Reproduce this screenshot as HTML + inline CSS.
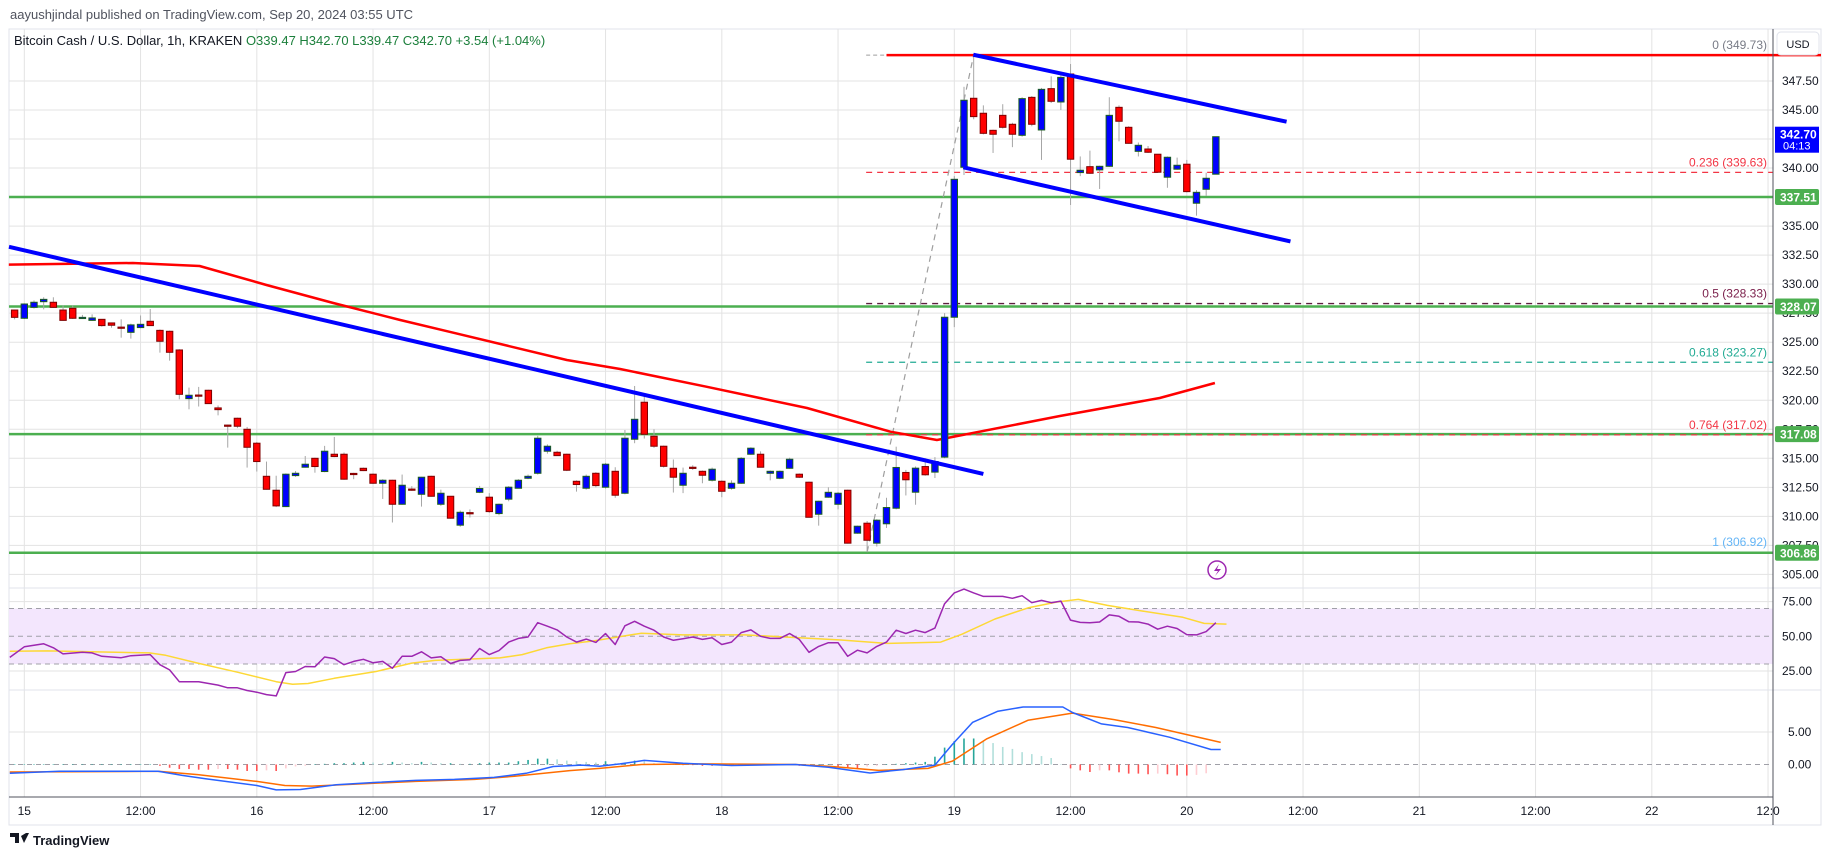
<!DOCTYPE html>
<html><head><meta charset="utf-8">
<style>
html,body{margin:0;padding:0;background:#fff;}
svg{display:block;font-family:"Liberation Sans",sans-serif;}
</style></head>
<body>
<svg id="chart" width="1835" height="857" viewBox="0 0 1835 857" xmlns="http://www.w3.org/2000/svg">
  <text x="10" y="19" font-size="13" fill="#50535e">aayushjindal published on TradingView.com, Sep 20, 2024 03:55 UTC</text>
  <rect x="9" y="29" width="1812" height="796" fill="#fff" stroke="#e0e3eb"/>
  <g id="grid"></g>
  <rect id="rsiband" fill="#f3e6fd"/>
  <g id="marks"></g>
  <g id="axis"></g>
  <text x="14" y="45" font-size="13" fill="#131722">Bitcoin Cash / U.S. Dollar, 1h, KRAKEN <tspan fill="#1b7f3b">O339.47  H342.70  L339.47  C342.70  +3.54 (+1.04%)</tspan></text>
  <g>
    <rect x="1777" y="32" width="42" height="23" rx="4" fill="#fff" stroke="#e0e3eb"/>
    <text x="1798" y="48" font-size="11" text-anchor="middle" fill="#131722">USD</text>
  </g>
  <g>
    <circle cx="1217" cy="570" r="9" fill="#fff" stroke="#9c27b0" stroke-width="1.5"/>
    <path d="M1219 564 L1214 571 L1218 571 L1215 576 L1221 569 L1217 569 Z" fill="#9c27b0"/>
  </g>
  <g>
    <path d="M10 833 h9 v10 h-4 v-6 h-5 z M21 836 l3 7 l5 -10 h-3 z" fill="#131722"/>
    <text x="33" y="845" font-size="13" font-weight="bold" fill="#131722">TradingView</text>
  </g>
</svg>
<script>
// ---------- data ----------
const candleT = [-1,0,1,2,3,4,5,6,7,8,9,10,11,12,13,14,15,16,17,18,19,20,21,22,23,24,25,26,27,28,29,30,31,32,33,34,35,36,37,38,39,40,41,42,43,44,45,46,47,48,49,50,51,52,53,54,55,56,57,58,59,60,61,62,63,64,65,66,67,68,69,70,71,72,73,74,75,76,77,78,79,80,81,82,83,84,85,86,87,88,89,90,91,92,93,94,95,96,97,98,99,100,101,102,103,104,105,106,107,108,109,110,111,112,113,114,115,116,117,118,119,120,121,122,123];
const openV = [327.77,327.06,328.0,328.49,328.44,327.77,327.92,327.14,326.88,326.97,326.66,326.3,325.85,326.26,326.8,326.02,325.94,324.33,320.14,320.45,320.86,319.34,317.86,318.45,317.5,316.3,313.45,312.25,310.84,313.51,314.23,315.0,313.86,315.35,315.35,313.7,314.14,313.63,312.85,313.11,311.04,312.35,311.9,313.45,311.04,311.73,309.24,310.32,312.07,311.65,310.24,311.48,312.42,313.28,313.71,315.61,315.52,315.35,313.02,312.42,313.71,312.51,313.88,311.99,316.64,319.83,316.9,316.04,314.14,312.68,314.23,313.88,313.11,313.02,312.42,312.85,315.35,315.35,313.71,313.28,314.14,313.63,312.94,310.18,311.65,311.04,312.25,308.55,309.41,307.69,309.36,310.7,313.78,312.08,314.29,313.81,315.1,327.15,340.07,346.01,344.72,343.25,344.54,343.77,342.82,346.09,343.28,346.84,345.69,348.1,339.61,340.12,339.84,340.15,345.23,343.51,341.44,341.64,341.19,339.21,339.9,340.33,336.97,338.17,339.47];
const closeV = [327.14,328.29,328.44,328.69,328.0,326.88,327.06,327.14,327.09,326.43,326.46,326.28,326.49,326.54,326.43,325.08,324.13,320.51,320.43,320.43,319.71,319.19,317.84,317.76,315.95,314.72,312.33,310.9,313.63,313.71,314.49,314.29,315.61,315.15,313.2,313.68,313.94,312.85,313.11,311.04,312.68,312.33,313.37,311.73,311.99,309.84,310.35,310.3,312.4,310.41,311.04,312.51,313.11,313.45,316.73,316.04,315.23,313.97,312.74,313.45,312.65,314.49,311.82,316.73,318.36,317.07,316.04,314.31,313.37,313.71,314.22,313.54,314.06,312.16,312.85,315.0,315.87,314.23,313.88,313.88,314.92,313.37,309.92,311.3,312.07,311.99,307.69,309.15,307.94,309.67,310.76,314.21,313.15,314.15,313.58,314.72,327.15,339.03,345.84,344.43,342.99,342.91,343.51,342.91,345.98,343.77,346.78,345.75,347.81,340.76,339.81,339.55,340.15,344.54,344.03,342.13,341.96,341.36,339.64,340.93,340.24,337.97,337.91,339.12,342.7];
const highV = [327.8,328.35,328.6,328.87,328.87,328.15,328.15,327.35,327.4,327.0,326.7,326.97,326.6,327.3,327.86,326.1,326.0,324.4,321.09,321.15,320.9,319.55,317.9,318.5,317.7,316.4,314.72,313.5,313.7,313.9,315.2,315.05,316.07,316.84,315.5,313.75,314.2,313.7,313.2,313.15,313.6,312.6,313.4,313.5,312.3,311.75,310.5,310.6,312.62,312.0,311.1,312.6,313.2,313.6,316.93,316.2,315.65,315.4,313.1,313.6,313.8,314.6,314.23,317.44,321.23,320.54,317.5,316.1,314.9,314.2,314.4,313.95,314.2,313.1,313.1,315.1,315.95,315.6,313.95,313.95,315.05,313.7,313.0,311.35,312.5,312.1,312.3,309.2,309.6,309.75,311.6,316.0,314.0,314.3,315.0,315.1,327.5,339.3,347.0,349.73,345.4,343.3,345.5,343.9,346.1,346.2,346.9,347.9,348.0,348.96,341.0,341.5,340.2,346.1,345.4,343.6,342.2,341.9,341.2,341.0,340.9,340.7,338.1,339.6,342.7];
const lowV = [326.97,327.0,327.9,327.83,327.95,326.85,327.0,327.0,326.85,326.34,326.25,325.39,325.31,326.2,326.4,324.1,323.41,320.08,319.22,319.46,319.7,318.7,315.92,317.6,314.2,313.86,312.3,310.8,310.8,313.4,314.2,313.76,313.8,315.1,313.15,313.2,313.9,312.8,311.5,309.47,311.0,312.2,310.84,311.7,310.9,309.8,309.1,309.9,312.0,310.3,310.1,311.3,312.4,313.2,313.6,315.4,315.2,313.9,312.13,312.3,312.5,312.4,311.6,311.9,316.3,316.7,315.9,314.2,312.05,312.0,314.0,312.85,313.0,311.65,312.3,312.8,315.3,314.2,313.1,313.2,314.1,313.3,309.9,309.2,311.6,310.6,307.65,308.5,306.92,307.4,309.0,310.6,311.8,311.0,313.5,313.3,315.0,326.3,339.4,344.2,342.9,341.3,343.4,341.8,342.7,343.6,340.7,345.6,345.0,336.82,339.3,339.5,338.2,340.1,342.3,342.1,341.0,341.3,339.6,338.3,339.85,337.9,335.9,337.6,339.47];

const maT = [-1.6,11.2,18.1,25,31.9,38.8,43.9,56,61.5,70.4,80.8,89.4,94.2,106.9,117.2,122.9];
const maV = [331.68,331.82,331.56,329.93,328.38,326.91,325.9,323.47,322.69,321.17,319.33,317.29,316.58,318.64,320.19,321.49];

const rsiT = [-1.5,0,2,3,4,6,7,8,10,11,13,14,15,16,18,20,21,22,23,24,25,26,27,28,29,30,31,32,33,34,35,36,37,38,39,40,41,42,43,44,45,46,47,48,49,50,51,52,53,54,55,56,57,58,59,60,61,62,63,64,65,66,67,68,69,70,71,72,73,74,75,76,77,78,79,80,81,82,83,84,85,86,87,88,89,90,91,92,93,94,95,96,97,98,99,101,102,103,104,105,106,107,108,109,110,111,112,113,114,115,116,117,118,119,120,121,122,123];
const rsiV = [34.8,42.4,44.6,41.7,37.3,38.5,38,35.6,34.6,36,36.8,29.5,25.8,17.3,17.3,14.8,12.9,12.9,10.9,9.7,8,7,23.8,24.6,28.2,28,35.1,33.9,29.5,31.9,33.4,30.9,31.9,27,35.6,35.6,38.8,34.4,35.3,30.4,32.6,33.1,41.2,36.8,39.7,45.8,48.5,49.5,59.8,57.3,54.6,49.5,45.8,48,45.6,52,44.1,57.6,60.8,57.3,54.4,49.5,47.1,48.3,49.5,47.8,49,44.1,45.8,52.7,54.6,50,48.5,48.5,52,47.8,38.5,42.7,45.4,45.4,35.6,40,38,42.7,45.8,54.4,52,54.4,52.7,55.9,73.5,81.3,84,81.3,78.8,78.8,77.4,79.3,74.2,75.9,74.2,75.4,61.7,60,59.8,60.3,65.4,64.4,60.5,60.3,58.8,55.1,57.3,55.6,51.2,51,53.4,59.8];
const rsiMaT = [-1.5,2.4,12.9,14.6,17.9,22,26,27.7,29.3,32,36.3,40,42.4,49.1,51.4,53.9,56.3,58.7,63.7,68,74.4,84.3,89,94.6,96.8,100.2,103.6,106.6,108.8,111.8,115.3,119.6,121.8,124.1];
const rsiMaV = [39.2,39.5,38,36.3,30.7,24.1,17.3,15.5,16,19.7,24.6,30.7,32.6,34.4,36.8,41.7,44.6,46.6,52.2,51,51,47.3,44.9,45.8,51.5,62.5,70.5,74.7,76.6,72.3,68.3,63.7,59.3,58.8];

const macdT = [-1.5,3.6,13.8,16.3,18.7,24,26,28.5,32.2,36.3,40.4,44.4,48.5,51.8,54.6,57.5,59.4,61.5,64,68,73,79.6,83,87.3,90.7,94,95.8,97.9,100.5,103.1,107.2,108.2,111.2,113.9,118.2,122.5,123.5];
const macdV = [-1.35,-1.04,-1.04,-1.67,-2.19,-3.23,-3.9,-3.85,-3.13,-2.76,-2.45,-2.29,-1.98,-1.35,-0.31,-0.1,-0.26,0.1,0.63,0.2,-0.16,0,-0.42,-1.3,-0.78,-0.1,3.1,6.5,8.2,8.85,8.85,8.0,6.25,5.7,4.2,2.3,2.3];
const sigT = [-1.5,13.8,17.9,24,26.9,29.7,34.2,40.4,46.5,50.6,56.3,59.4,63.7,70.2,79.6,83,88.2,93.3,95.8,99.3,103.6,108.2,112.5,116.8,123.5];
const sigV = [-1.15,-1.04,-1.56,-2.6,-3.23,-3.33,-3.02,-2.6,-2.29,-1.82,-0.94,-0.6,0,0.1,0,-0.26,-0.9,-0.6,0.52,3.9,6.8,7.9,6.9,5.7,3.4];
const histV = [0,0,0,0,0,0,0,0,0,0,0,0,0,0,0,-0.2,-0.5,-0.7,-0.7,-0.8,-0.8,-0.7,-0.7,-0.8,-1.0,-1.0,-0.9,-1.0,-0.6,-0.3,-0.2,0,0.1,0.2,0.2,0.3,0.4,0.3,0.2,0.4,0.3,0.2,0.4,0.3,0.2,0.2,0.1,0.1,0.2,0.3,0.3,0.3,0.5,0.7,0.9,0.9,0.8,0.6,0.5,0.4,0.3,0.5,0.2,0.3,0.6,0.5,0.2,0.1,0,-0.1,-0.1,-0.2,-0.2,0,0.05,0.05,0.05,0,0,0,0,-0.2,-0.2,0,0,-0.3,-0.5,-0.6,-0.3,-0.2,0.05,0.1,0.2,0.3,0.4,1.2,2.6,3.6,4.0,4.0,3.6,3.3,2.7,2.4,1.9,1.6,1.3,1.0,0,-0.6,-0.9,-1.15,-0.9,-0.9,-1.2,-1.4,-1.4,-1.5,-1.4,-1.5,-1.7,-1.7,-1.6,-1.35];

const priceTicks = ["305.00","307.50","310.00","312.50","315.00","317.50","320.00","322.50","325.00","327.50","330.00","332.50","335.00","337.50","340.00","342.50","345.00","347.50"];
const supportLevels = [337.51, 328.07, 317.08, 306.86];
const supportLabels = ["337.51","328.07","317.08","306.86"];
const fibLevels = [349.73, 339.63, 328.33, 323.27, 317.02, 306.92];
const fibLabels = ["0 (349.73)","0.236 (339.63)","0.5 (328.33)","0.618 (323.27)","0.764 (317.02)","1 (306.92)"];
const fibColors = ["#787b86","#f23645","#7b1f4b","#22ab94","#f23645","#64b5f6"];
const timeTicksT = [0,12,24,36,48,60,72,84,96,108,120,132,144,156,168,180];
const timeLabels = ["15","12:00","16","12:00","17","12:00","18","12:00","19","12:00","20","12:00","21","12:00","22","12:0"];
// trendlines: [t1, p1, t2, p2]
const trendDown = [-1.58, 333.22, 99, 313.65];
const chanUpper = [97.96, 349.76, 130.3, 343.99];
const chanLower = [96.93, 340.06, 130.7, 333.68];
const fibDiag = [87.0, 306.92, 98.0, 349.73];
const resistance = [89, 349.73];

// ---------- scales ----------
const L = 9, R = 1773;
function xT(t){ return 24.3 + t*9.6875; }
function yP(p){ return 110 + (345 - p)*11.61; }
function yR(v){ return 636.3 + (50 - v)*1.387; }
function yM(v){ return 764.5 - v*6.5; }

const NS = "http://www.w3.org/2000/svg";
function mk(tag, attrs, parent){
  const e = document.createElementNS(NS, tag);
  for (const k in attrs) e.setAttribute(k, attrs[k]);
  parent.appendChild(e);
  return e;
}
const grid = document.getElementById('grid');
const marks = document.getElementById('marks');
const axis = document.getElementById('axis');

timeTicksT.forEach(t => {
  const x = xT(t);
  if (x > R) return;
  const l = mk('line', {x1:x, x2:x, y1:29, y2:797, stroke:'#e3e3e3', 'stroke-width':1}, grid);
  
  
});
priceTicks.forEach(s => {
  const y = yP(parseFloat(s));
  const l = mk('line', {x1:L, x2:R, y1:y, y2:y, stroke:'#e3e3e3', 'stroke-width':1}, grid);
  
  
});
[588, 690].forEach(y => {
  const l = mk('line', {x1:L, x2:1821, y1:y, y2:y, stroke:'#e0e3eb', 'stroke-width':1}, grid);
  
  
});
[75,25].forEach(v => {
  const l = mk('line', {x1:L, x2:R, y1:yR(v), y2:yR(v), stroke:'#e3e3e3'}, grid);
  
  
});
{
  const l = mk('line', {x1:L, x2:R, y1:yM(5), y2:yM(5), stroke:'#e3e3e3'}, grid);
  
  
}
const band = document.getElementById('rsiband');
band.setAttribute('x', L); band.setAttribute('width', R-L);
band.setAttribute('y', yR(70)); band.setAttribute('height', yR(30)-yR(70));
[70,50,30].forEach(v => {
  const l = mk('line', {x1:L, x2:R, y1:yR(v), y2:yR(v), stroke:'#a0a0a8', 'stroke-dasharray':'5,4'}, marks);
  
  
});
{
  const l = mk('line', {x1:L, x2:R, y1:yM(0), y2:yM(0), stroke:'#a0a0a8', 'stroke-dasharray':'5,4'}, marks);
  
  
}

supportLevels.forEach(p => {
  const l = mk('line', {x1:L, x2:R, y1:yP(p), y2:yP(p), stroke:'#4caf50', 'stroke-width':2.5}, marks);
  
  
});
const fibX0 = xT(86.9);
fibLevels.forEach((p, i) => {
  if (i >= 1 && i <= 4) {
    const l = mk('line', {x1:fibX0, x2:R, y1:yP(p), y2:yP(p), stroke: i==2 ? '#5d1f3f' : fibColors[i], 'stroke-width':1.3, 'stroke-dasharray':'6,5'}, marks);
    
    
  }
  const tx = mk('text', {x:1767, y:yP(p)-6, 'font-size':12, 'text-anchor':'end', fill:fibColors[i]}, marks);
  tx.textContent = fibLabels[i];
  
  
});
{
  const l = mk('line', {x1:fibX0, x2:xT(resistance[0]), y1:yP(resistance[1]), y2:yP(resistance[1]), stroke:'#9e9e9e', 'stroke-dasharray':'4,3'}, marks);
  
  
  const r = mk('line', {x1:xT(resistance[0]), x2:1821, y1:yP(resistance[1]), y2:yP(resistance[1]), stroke:'#ff0000', 'stroke-width':2.5}, marks);
  
  
  const d = mk('line', {x1:xT(fibDiag[0]), y1:yP(fibDiag[1]), x2:xT(fibDiag[2]), y2:yP(fibDiag[3]), stroke:'#9e9e9e', 'stroke-width':1.2, 'stroke-dasharray':'6,5'}, marks);
  
  
}

function poly(ts, vs, yf, color, w, name){
  const pts = ts.map((t,i) => xT(t).toFixed(1) + ',' + yf(vs[i]).toFixed(1)).join(' ');
  const p = mk('polyline', {points:pts, fill:'none', stroke:color, 'stroke-width':w, 'stroke-linejoin':'round'}, marks);
  
  
}
poly(maT, maV, yP, '#ff0000', 2.5, 'moving-average-line');

candleT.forEach((t, i) => {
  const o = openV[i], c = closeV[i], h = highV[i], lo = lowV[i];
  const x = xT(t);
  const up = c >= o;
  const w = mk('line', {x1:x, x2:x, y1:yP(h), y2:yP(lo), stroke:'#a6a6a6', 'stroke-width':1}, marks);
  
  
  const top = yP(Math.max(o,c)), bot = yP(Math.min(o,c));
  const b = mk('rect', {x:x-3.2, y:top, width:6.4, height:Math.max(1.2, bot-top), fill: up ? '#0000ff' : '#ff0000', stroke: up ? '#1b5e20' : '#7f0000', 'stroke-width':1}, marks);
  
  
});

[[trendDown,'descending-trendline'],[chanUpper,'channel-upper-line'],[chanLower,'channel-lower-line']].forEach(([a,n]) => {
  const l = mk('line', {x1:xT(a[0]), y1:yP(a[1]), x2:xT(a[2]), y2:yP(a[3]), stroke:'#0000ff', 'stroke-width':4}, marks);
  
  
});

poly(rsiMaT, rsiMaV, yR, '#fdd835', 1.5, 'rsi-ma-line');
poly(rsiT, rsiV, yR, '#9c27b0', 1.5, 'rsi-line');

histV.forEach((v, i) => {
  const t = candleT[i];
  const prev = i > 0 ? histV[i-1] : 0;
  let col;
  if (v >= 0) col = v >= prev ? '#26a69a' : '#b2dfdb';
  else col = v <= prev ? '#ff5252' : '#ffcdd2';
  const y0 = yM(0), y1 = yM(v);
  const b = mk('rect', {x:xT(t)-0.8, y:Math.min(y0,y1), width:1.6, height:Math.max(0.5, Math.abs(y1-y0)), fill:col}, marks);
  
  
});
poly(sigT, sigV, yM, '#ff6d00', 1.5, 'macd-signal-line');
poly(macdT, macdV, yM, '#2962ff', 1.5, 'macd-line');

{
  const a = mk('line', {x1:R, x2:R, y1:29, y2:825, stroke:'#50535e', 'stroke-width':1}, axis);
  
  
  const b = mk('line', {x1:L, x2:R, y1:797, y2:797, stroke:'#50535e', 'stroke-width':1}, axis);
  
  
}
priceTicks.forEach(s => {
  const tx = mk('text', {x:1782, y:yP(parseFloat(s))+4, 'font-size':12, fill:'#131722'}, axis);
  tx.textContent = s;
  
  
});
supportLevels.forEach((p, i) => {
  const y = yP(p);
  const r = mk('rect', {x:1775, y:y-8, width:44, height:16, rx:2, fill:'#4caf50'}, axis);
  
  
  const tx = mk('text', {x:1780, y:y+4.5, 'font-size':12, 'font-weight':'bold', fill:'#fff'}, axis);
  tx.textContent = supportLabels[i];
  
  
});
{
  const y = yP(342.70);
  const r = mk('rect', {x:1775, y:y-10, width:44, height:26, fill:'#0000ff'}, axis);
  
  
  const t1 = mk('text', {x:1780, y:y+2, 'font-size':12, 'font-weight':'bold', fill:'#fff'}, axis);
  t1.textContent = '342.70';
  
  
  const t2 = mk('text', {x:1783, y:y+13, 'font-size':11, fill:'#fff'}, axis);
  t2.textContent = '04:13';
  
  
}
[["75.00",75],["50.00",50],["25.00",25]].forEach(([s,v]) => {
  const tx = mk('text', {x:1782, y:yR(v)+4, 'font-size':12, fill:'#131722'}, axis);
  tx.textContent = s;
  
  
});
[["5.00",5],["0.00",0]].forEach(([s,v]) => {
  const tx = mk('text', {x:1788, y:yM(v)+4, 'font-size':12, fill:'#131722'}, axis);
  tx.textContent = s;
  
  
});
timeTicksT.forEach((t, i) => {
  const tx = mk('text', {x:xT(t), y:815, 'font-size':12, 'text-anchor':'middle', fill:'#131722'}, axis);
  tx.textContent = timeLabels[i];
  
  
});
</script>
</body></html>
